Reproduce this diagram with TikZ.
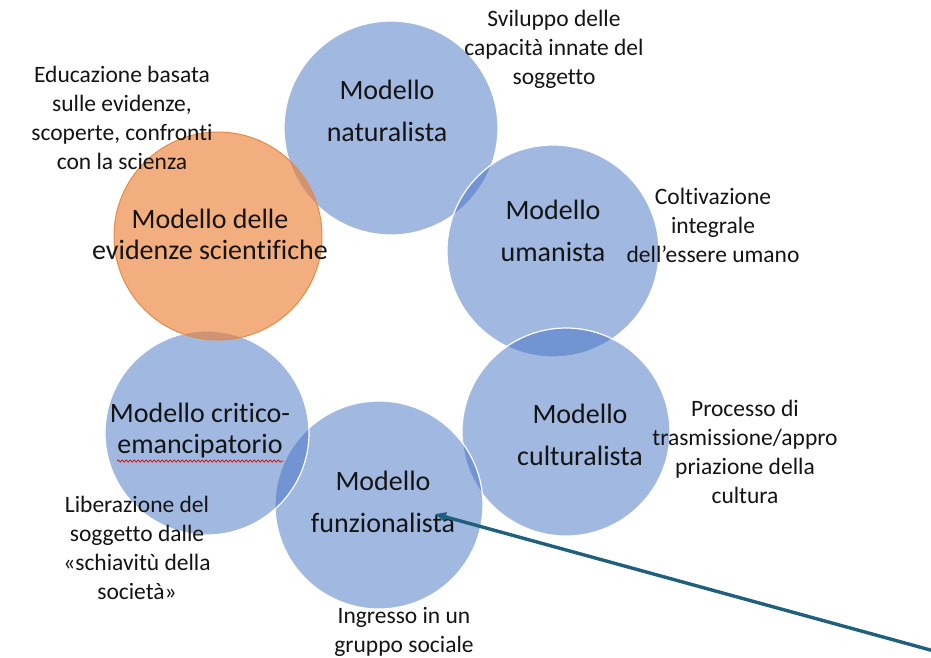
\documentclass[tikz,border=0pt]{standalone}
\usepackage{fontspec}
\setmainfont[Ligatures=NoCommon]{Carlito}
\usetikzlibrary{arrows.meta,decorations.pathmorphing}
\definecolor{cblue}{RGB}{68,114,196}
\definecolor{corange}{RGB}{237,125,49}
\definecolor{cborder}{RGB}{226,140,70}
\definecolor{arrowcol}{RGB}{30,96,125}
\definecolor{txt}{RGB}{20,20,20}
\begin{document}
\begin{tikzpicture}[x=1pt,y=-1pt,
  bluecirc/.style={circle, fill=cblue, fill opacity=0.5, draw=white, draw opacity=1, line width=1.2pt, minimum size=208pt, inner sep=0pt},
  orangecirc/.style={circle, fill=corange, fill opacity=0.62, draw=cborder, draw opacity=1, line width=1pt, minimum size=208pt, inner sep=0pt},
  ctext/.style={align=center, text=txt, inner sep=0pt, font=\fontsize{28}{42}\selectfont},
  ctextb/.style={align=center, text=txt, inner sep=0pt, font=\fontsize{28}{31}\selectfont},
  desc/.style={align=center, text=txt, inner sep=0pt, font=\fontsize{23.5}{29}\selectfont},
  pointer/.style={draw=arrowcol, line width=3.4pt, -{Triangle[length=11pt,width=9pt]}},
  spell/.style={draw=red!85!black, line width=0.7pt, decorate, decoration={snake, amplitude=1.2pt, segment length=4pt}}
]
\useasboundingbox (0,0) rectangle (931,658);
\fill[white] (0,0) rectangle (931,658);

% circles
\node[bluecirc, minimum size=214pt] (natc) at (391,128) {};
\node[bluecirc, minimum size=212pt] (umac) at (553,251) {};
\node[bluecirc] (culc) at (566,432) {};
\node[bluecirc] (func) at (379,505) {};
\node[bluecirc, minimum size=204pt] (crac) at (207,433) {};
\node[orangecirc] (evic) at (218,236) {};

% circle texts
\node[ctext] (natt) at (387,111) {Modello\\naturalista};
\node[ctext] (umat) at (553,231) {Modello\\umanista};
\node[ctext] (cult) at (580,435) {Modello\\culturalista};
\node[ctext] (funt) at (383,502) {Modello\\funzionalista};
\node[ctextb] (crat) at (200,431) {Modello critico-\\emancipatorio};
\node[ctextb] (evit) at (210,234) {Modello delle\\evidenze scientifiche};

% spell-check underline
\draw[spell] (117,461) -- (283,461);

% descriptions
\node[desc] (evid) at (122,118) {Educazione basata\\sulle evidenze,\\scoperte, confronti\\con la scienza};
\node[desc] (natd) at (554,49) {Sviluppo delle\\capacità innate del\\soggetto};
\node[desc] (umad) at (713,225) {Coltivazione\\integrale\\dell’essere umano};
\node[desc] (culd) at (745,452) {Processo di\\trasmissione/appro\\priazione della\\cultura};
\node[desc] (crad) at (137,548) {Liberazione del\\soggetto dalle\\«schiavitù della\\società»};
\node[desc] (fund) at (404,632) {Ingresso in un\\gruppo sociale};

% arrow
\coordinate (tail) at (934,651);
\coordinate (tip) at (435,514);
\draw[pointer] (tail) -- (tip);
\end{tikzpicture}
\end{document}
